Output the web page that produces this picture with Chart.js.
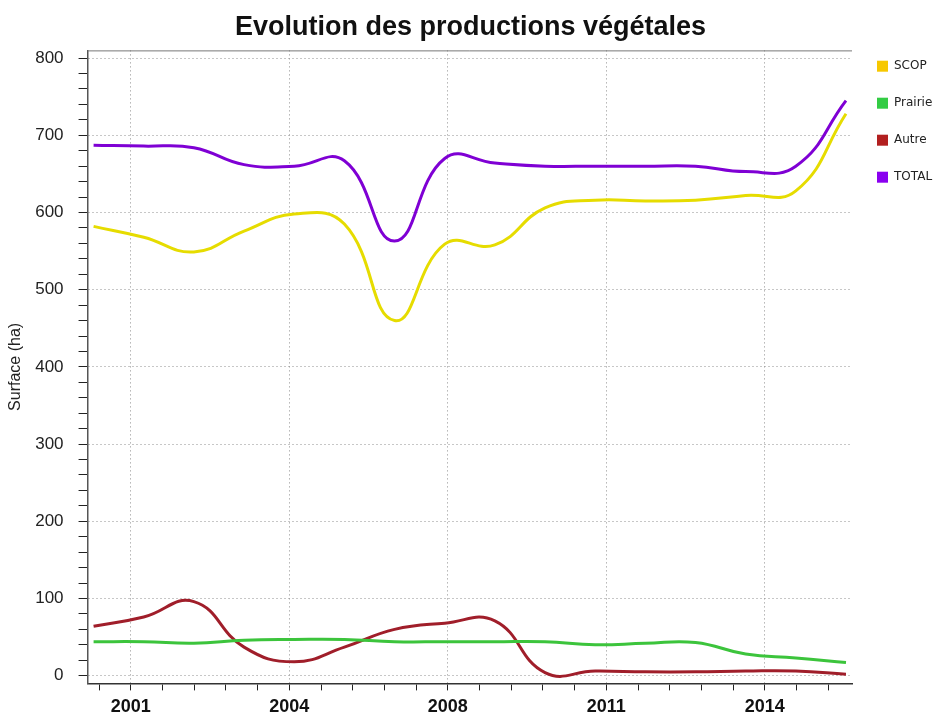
<!DOCTYPE html>
<html>
<head>
<meta charset="utf-8">
<title>Evolution des productions végétales</title>
<script src="https://cdn.jsdelivr.net/npm/chart.js@4.4.0/dist/chart.umd.min.js"></script>
<style>
  html, body { margin: 0; padding: 0; background: #fff; }
</style>
</head>
<body>
<canvas id="chart" width="935" height="724"></canvas>
<script>
// yearly values (ha)
const years = [2001, 2002, 2003, 2004, 2005, 2006, 2007, 2008, 2009, 2010, 2011, 2012, 2013, 2014, 2015, 2016];
const scop = [582, 568, 549, 576, 598, 585, 460, 559, 558, 606, 616, 615, 616, 622, 628, 728];
const prairie = [44, 44, 42, 46, 47, 47, 44, 44, 44, 44, 40, 42, 43, 28, 23, 17];
const autre = [64, 76, 96, 37, 18, 37, 60, 68, 71, 4, 6, 5, 5, 6, 6, 2];
const total = [687, 686, 684, 662, 660, 667, 563, 670, 664, 660, 660, 660, 660, 653, 660, 745];

// axis ticks
const xTickLabels = ['2001', '2004', '2008', '2011', '2014'];
const xFirstTick = 2001.11; // first minor tick on the time axis
const xTickStep = 0.632;    // one minor tick, five per labelled tick
const yTickLabels = [0, 100, 200, 300, 400, 500, 600, 700, 800];
const yMinorStep = 20;

function toPoints(values) {
  return values.map((v, i) => ({ x: years[i], y: v }));
}

// thin frame line along the top of the plot
const topFrame = {
  id: 'topFrame',
  beforeDatasetsDraw(chart) {
    const { ctx, chartArea } = chart;
    ctx.save();
    ctx.strokeStyle = '#777';
    ctx.lineWidth = 1;
    ctx.beginPath();
    ctx.moveTo(chartArea.left, chartArea.top + 0.5);
    ctx.lineTo(chartArea.right, chartArea.top + 0.5);
    ctx.stroke();
    ctx.restore();
  },
};

const ctx = document.getElementById('chart').getContext('2d');

const chart = new Chart(ctx, {
  type: 'line',
  data: {
    datasets: [
      {
        label: 'SCOP',
        data: toPoints(scop),
        borderColor: '#e6dc00',
        backgroundColor: '#f7c800',
      },
      {
        label: 'Prairie',
        data: toPoints(prairie),
        borderColor: '#3cc43c',
        backgroundColor: '#33cc44',
      },
      {
        label: 'Autre',
        data: toPoints(autre),
        borderColor: '#a01e2a',
        backgroundColor: '#b21f1f',
      },
      {
        label: 'TOTAL',
        data: toPoints(total),
        borderColor: '#7f00d4',
        backgroundColor: '#8a00f0',
      },
    ],
  },
  options: {
    responsive: false,
    animation: false,
    elements: {
      line: { borderWidth: 3, tension: 0.45, fill: false },
      point: { radius: 0, hoverRadius: 0 },
    },
    layout: {
      padding: { left: 6, right: 0, top: 0, bottom: 0 },
    },
    plugins: {
      title: {
        display: true,
        text: 'Evolution des productions végétales',
        color: '#111',
        font: { family: 'Liberation Sans, Arial, sans-serif', size: 27, weight: 'bold' },
        padding: { top: 11, bottom: 7 },
      },
      legend: {
        position: 'right',
        align: 'start',
        maxWidth: 83,
        title: {
          // empty title only used to push the items down
          display: true,
          text: ' ',
          font: { size: 1 },
          padding: { top: 34, bottom: 0 },
        },
        labels: {
          boxWidth: 11,
          boxHeight: 11,
          padding: 25,
          color: '#222',
          font: { family: 'DejaVu Sans, Tahoma, sans-serif', size: 12 },
          generateLabels(chart) {
            return Chart.defaults.plugins.legend.labels.generateLabels(chart).map((item) => ({
              ...item,
              lineWidth: 0,
              strokeStyle: 'rgba(0,0,0,0)',
            }));
          },
        },
      },
      tooltip: { enabled: false },
    },
    scales: {
      x: {
        type: 'linear',
        min: 2000.88,
        max: 2016.12,
        afterBuildTicks(scale) {
          const ticks = [];
          for (let v = xFirstTick; v <= scale.max; v += xTickStep) {
            ticks.push({ value: v });
          }
          scale.ticks = ticks;
        },
        ticks: {
          autoSkip: false,
          maxRotation: 0,
          padding: 6,
          color: '#111',
          font: { family: 'Liberation Sans, Arial, sans-serif', size: 18, weight: 'bold' },
          callback(value, index) {
            return index % 5 === 1 ? xTickLabels[(index - 1) / 5] : '';
          },
        },
        grid: {
          color: (c) => (c.index % 5 === 1 ? '#8e8e8e' : 'rgba(0,0,0,0)'),
          tickColor: '#222',
          tickLength: 7,
          lineWidth: 1,
        },
        border: { display: true, color: '#333', width: 1.5, dash: [1, 3] },
      },
      y: {
        min: -10,
        max: 810,
        afterBuildTicks(scale) {
          const ticks = [];
          const top = yTickLabels[yTickLabels.length - 1];
          for (let v = 0; v <= top; v += yMinorStep) {
            ticks.push({ value: v });
          }
          scale.ticks = ticks;
        },
        title: {
          display: true,
          text: 'Surface (ha)',
          color: '#222',
          font: { family: 'Liberation Sans, Arial, sans-serif', size: 16 },
          padding: { top: 0, bottom: -5 },
        },
        ticks: {
          autoSkip: false,
          padding: 15,
          color: '#222',
          font: { family: 'Liberation Sans, Arial, sans-serif', size: 17 },
          callback(value) {
            return yTickLabels.includes(value) ? String(value) : '';
          },
        },
        grid: {
          color: (c) => (c.tick && yTickLabels.includes(c.tick.value) ? '#8e8e8e' : 'rgba(0,0,0,0)'),
          tickColor: '#222',
          tickLength: 9,
          lineWidth: 1,
        },
        border: { display: true, color: '#555', width: 1.5, dash: [1, 3] },
      },
    },
  },
  plugins: [topFrame],
});
</script>
</body>
</html>
